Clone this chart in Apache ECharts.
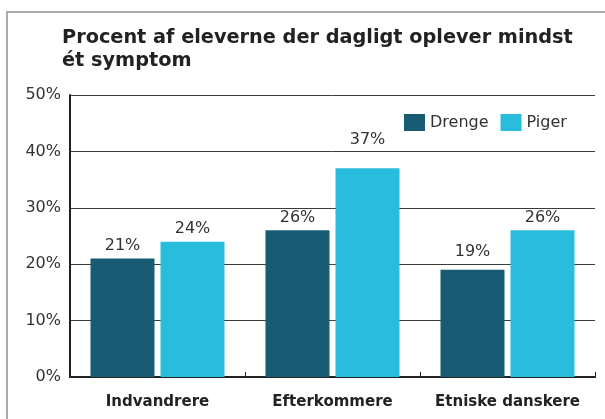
<!DOCTYPE html>
<html>
<head>
    <meta charset="utf-8">
    <title>Symptomer</title>
    <script src="https://cdn.jsdelivr.net/npm/echarts@6/dist/echarts.min.js"></script>
    <style>
        body { margin: 0; background: #fff; }
        #main { width: 605px; height: 419px; }
    </style>
</head>
<body>
<div id="main"></div>
<script type="text/javascript">
    // data
    var categories = ['Indvandrere', 'Efterkommere', 'Etniske danskere'];
    var drenge = [21, 26, 19];
    var piger = [24, 37, 26];
    var seriesNames = ['Drenge', 'Piger'];

    var myChart = echarts.init(document.getElementById('main'));
    var font = '"DejaVu Sans"';
    var pxPerUnit = 282 / 50;   // plot height / axis max

    // labels that would cut through a gridline are lifted above it
    function withLabels(values) {
        return values.map(function (v) {
            var next = Math.ceil(v / 10) * 10;
            if (v + 3 >= next) {
                return { value: v, label: { distance: (next - v) * pxPerUnit + 4 } };
            }
            return v;
        });
    }

    var label = {
        show: true,
        position: 'top',
        distance: 5,
        formatter: '{c}%',
        color: '#333',
        fontFamily: font,
        fontSize: 16
    };

    myChart.setOption({
        animation: false,
        title: {
            text: 'Procent af eleverne der dagligt oplever mindst\nét symptom',
            left: 57,
            top: 21,
            textStyle: {
                fontFamily: font,
                fontWeight: 'bold',
                fontSize: 19.3,
                lineHeight: 23,
                color: '#222'
            }
        },
        graphic: [{
            type: 'rect',
            silent: true,
            shape: { x: 7, y: 12, width: 640, height: 440 },
            style: { fill: 'none', stroke: '#aaa', lineWidth: 2 }
        }],
        legend: {
            data: seriesNames,
            left: 399,
            top: 109,
            itemWidth: 21,
            itemHeight: 17,
            itemGap: 12,
            icon: 'rect',
            textStyle: { fontFamily: font, fontSize: 16, color: '#333' }
        },
        grid: {
            left: 70,
            right: 10,
            top: 95,
            bottom: 42
        },
        xAxis: {
            type: 'category',
            data: categories,
            axisLine: { lineStyle: { color: '#222', width: 2 } },
            axisTick: {
                show: true,
                inside: true,
                length: 5,
                interval: function (i) { return i > 0 && i < categories.length; },
                lineStyle: { color: '#222' }
            },
            axisLabel: {
                interval: 0,
                margin: 18,
                color: '#222',
                fontFamily: font,
                fontWeight: 'bold',
                fontSize: 15
            }
        },
        yAxis: {
            type: 'value',
            min: 0,
            max: 50,
            interval: 10,
            axisLine: { show: true, lineStyle: { color: '#222', width: 2 } },
            axisTick: { show: false },
            splitLine: { lineStyle: { color: '#3a3a3a', width: 1 } },
            axisLabel: {
                formatter: '{value}%',
                margin: 9,
                color: '#333',
                fontFamily: font,
                fontSize: 16
            }
        },
        series: [
            {
                name: seriesNames[0],
                type: 'bar',
                data: withLabels(drenge),
                barWidth: 64,
                barGap: '9.4%',
                itemStyle: { color: '#185c73' },
                label: label
            },
            {
                name: seriesNames[1],
                type: 'bar',
                data: withLabels(piger),
                barWidth: 64,
                barGap: '9.4%',
                itemStyle: { color: '#2abcdd' },
                label: label
            }
        ]
    });
</script>
</body>
</html>
